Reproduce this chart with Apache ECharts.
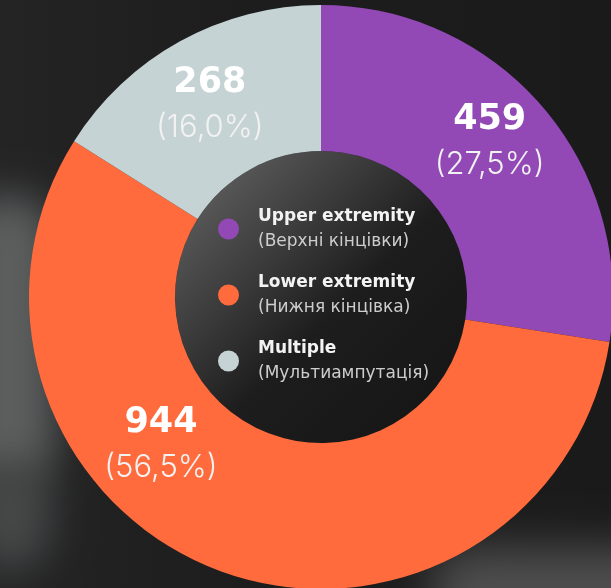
<!DOCTYPE html>
<html>
<head>
<meta charset="utf-8">
<script src="https://cdn.jsdelivr.net/npm/echarts@6/dist/echarts.min.js"></script>
<style>
  html, body { margin: 0; padding: 0; background: #1d1d1f; }
  #chart { width: 611px; height: 588px; }
</style>
</head>
<body>
<div id="chart"></div>
<script>
const categories = ['Upper extremity', 'Lower extremity', 'Multiple'];
const subtitles = ['(Верхні кінцівки)', '(Нижня кінцівка)', '(Мультиампутація)'];
const values = [459, 944, 268];
const colors = ['#9249b5', '#ff6b3c', '#c6d3d4'];

const total = values.reduce((a, b) => a + b, 0);
const fmtPct = v => (v / total * 100).toFixed(1).replace('.', ',') + '%';

// label nudges (presentation only)
const labelShift = [[0, -12], [-82, -61], [-4, 1]];

const chart = echarts.init(document.getElementById('chart'), null, { renderer: 'canvas' });

// soft background blob: shape drawn off-canvas, only its blurred shadow shows
const blob = (x, y, w, h, r, blur, color) => ({
  type: 'rect', silent: true, z: -9,
  shape: { x: x - 2000, y: y, width: w, height: h, r: r },
  style: { fill: color, shadowColor: color, shadowBlur: blur, shadowOffsetX: 2000 }
});

const option = {
  backgroundColor: '#1c1c1e',
  animation: false,
  graphic: [
    {
      type: 'rect', silent: true, z: -10,
      shape: { x: 0, y: 0, width: 611, height: 588 },
      style: {
        fill: new echarts.graphic.LinearGradient(0, 0, 1, 0, [
          { offset: 0, color: '#242425' },
          { offset: 0.4, color: '#1d1d1e' },
          { offset: 1, color: '#1a1a1b' }
        ])
      }
    },
    blob(-40, 195, 95, 290, 45, 40, 'rgba(92,94,94,1)'),
    blob(-30, 460, 80, 110, 40, 40, 'rgba(70,72,72,1)'),
    blob(430, 548, 260, 90, 40, 45, 'rgba(78,78,78,1)')
  ],
  legend: {
    orient: 'vertical',
    left: 213,
    top: 203,
    itemWidth: 21,
    itemHeight: 21,
    itemGap: 24,
    icon: 'circle',
    selectedMode: false,
    data: categories,
    formatter: name => {
      const i = categories.indexOf(name);
      return '{a|' + name + '}\n{b|' + subtitles[i] + '}';
    },
    textStyle: {
      rich: {
        a: { fontFamily: '"DejaVu Sans", sans-serif', fontWeight: 700, fontSize: 17, color: '#f3f3f3', lineHeight: 25, padding: [0, 0, 0, 14] },
        b: { fontFamily: '"DejaVu Sans", sans-serif', fontWeight: 400, fontSize: 17, color: '#cdcdcd', lineHeight: 25, padding: [0, 0, 0, 14] }
      }
    }
  },
  series: [
    {
      type: 'pie',
      silent: true,
      radius: [0, 146],
      center: [321, 297],
      z: 1,
      label: { show: false },
      labelLine: { show: false },
      itemStyle: {
        color: new echarts.graphic.LinearGradient(0, 0, 1, 1, [
          { offset: 0, color: '#6a6a6a' },
          { offset: 0.35, color: '#3a3a3b' },
          { offset: 0.55, color: '#1d1d1e' },
          { offset: 1, color: '#141415' }
        ])
      },
      data: [{ value: 1, name: '' }]
    },
    {
      type: 'pie',
      radius: [146, 292],
      center: [321, 297],
      startAngle: 90,
      clockwise: true,
      silent: true,
      z: 2,
      itemStyle: { borderWidth: 0 },
      label: {
        show: true,
        position: 'inside',
        formatter: p => '{v|' + p.value + '}\n{p|(' + fmtPct(p.value) + ')}',
        rich: {
          v: { fontFamily: '"DejaVu Sans", sans-serif', fontWeight: 700, fontSize: 35, color: '#ffffff', lineHeight: 48, align: 'center' },
          p: { fontFamily: 'Inter, "Noto Sans", sans-serif', fontWeight: 300, fontSize: 31, color: '#f2f2f2', lineHeight: 42, align: 'center' }
        }
      },
      labelLayout: params => ({ dx: labelShift[params.dataIndex][0], dy: labelShift[params.dataIndex][1] }),
      labelLine: { show: false },
      data: categories.map((c, i) => ({ name: c, value: values[i], itemStyle: { color: colors[i] } }))
    }
  ]
};

chart.setOption(option);
</script>
</body>
</html>
